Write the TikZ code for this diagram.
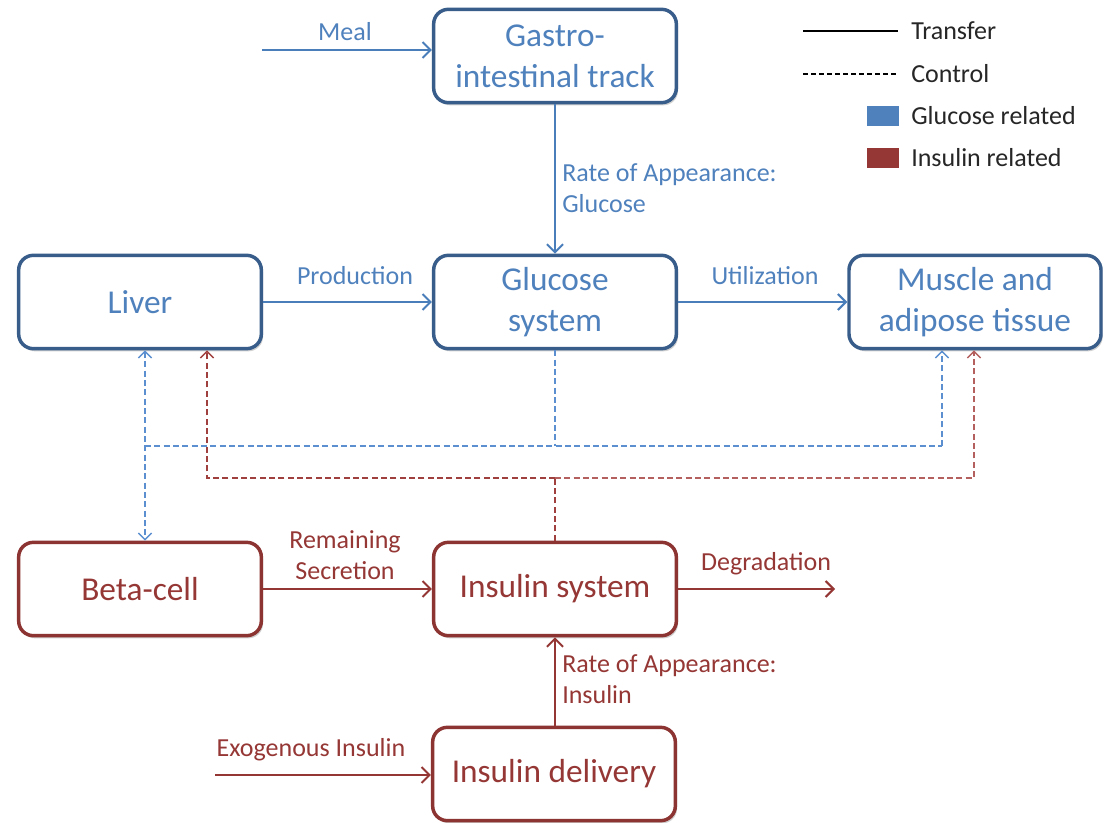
\documentclass[tikz,border=0pt]{standalone}
\usepackage{fontspec}
\setmainfont{Carlito}
\usetikzlibrary{arrows.meta,shadows,calc}
\definecolor{bborder}{RGB}{56,93,138}
\definecolor{gtext}{RGB}{79,129,189}
\definecolor{gline}{RGB}{74,126,187}
\definecolor{gdash}{RGB}{91,143,207}
\definecolor{rborder}{RGB}{140,52,50}
\definecolor{rtext}{RGB}{149,55,53}
\definecolor{rline}{RGB}{148,54,52}
\definecolor{rdash}{RGB}{160,64,62}
\definecolor{rdashl}{RGB}{180,96,94}
\definecolor{legtext}{RGB}{38,38,38}
\begin{document}
\begin{tikzpicture}[x=0.75pt,y=-0.75pt,
  box/.style={rounded corners=11pt, line width=2.6pt, fill=white,
    minimum width=182pt, minimum height=70pt, align=center, inner sep=2pt,
    font=\fontsize{25}{31}\selectfont,
    drop shadow={shadow xshift=1.3pt, shadow yshift=-2pt, opacity=0.3, fill=black!60}},
  gbox/.style={box, draw=bborder, text=gtext},
  rbox/.style={box, draw=rborder, text=rtext},
  lab/.style={font=\fontsize{19.5}{23.5}\selectfont, inner sep=0pt},
  glab/.style={lab, text=gtext},
  rlab/.style={lab, text=rtext},
  leg/.style={lab, text=legtext, anchor=west},
  ttip/.tip={Straight Barb[length=6pt,width=12pt,line width=1.5pt]},
  ctip/.tip={Straight Barb[length=5pt,width=10pt,line width=1pt]},
  gtr/.style={line width=1.8pt, draw=gline, -ttip},
  rtr/.style={line width=1.8pt, draw=rline, -ttip},
  ctl/.style={line width=1.1pt, dash pattern=on 4.5pt off 2.5pt},
]
\useasboundingbox (0,0) rectangle (1106,823);

% boxes
\node[gbox] (gas) at (555,56) {Gastro-\\intestinal track};
\node[gbox] (liver) at (140,302) {Liver};
\node[gbox] (glu) at (555,302) {Glucose\\system};
\node[gbox, minimum width=189pt] (mus) at (975,302) {Muscle and\\adipose tissue};
\node[rbox] (beta) at (140,589) {Beta-cell};
\node[rbox] (ins) at (555,589) {Insulin system};
\node[rbox] (del) at (554,774) {Insulin delivery};

% free ends
\coordinate (mealstart) at (262,50);
\coordinate (degend) at (835,589);
\coordinate (exostart) at (215,775);

% transfer connectors
\draw[gtr] (mealstart) -- (mealstart -| gas.west);
\node[glab] (meal) at (345,32) {Meal};
\draw[gtr] (gas.south) -- (glu.north);
\node[glab, anchor=west, align=left] (rag) at (562,188) {Rate of Appearance:\\Glucose};
\draw[gtr] (liver.east) -- (glu.west);
\node[glab] (prod) at (355,276) {Production};
\draw[gtr] (glu.east) -- (mus.west);
\node[glab] (util) at (765,276) {Utilization};
\draw[rtr] (beta.east) -- (ins.west);
\node[rlab, align=center] (rem) at (345,555) {Remaining\\Secretion};
\draw[rtr] (ins.east) -- (degend);
\node[rlab] (deg) at (766,564) {Degradation};
\draw[rtr] (del.north -| ins.south) -- (ins.south);
\node[rlab, anchor=west, align=left] (rai) at (562,679) {Rate of Appearance:\\Insulin};
\draw[rtr] (exostart) -- (exostart -| del.west);
\node[rlab] (exo) at (311,750) {Exogenous Insulin};

% control connectors (glucose)
\coordinate (bj) at (555,446);
\coordinate (bl) at (145,446);
\coordinate (br) at (942,446);
\draw[ctl, draw=gdash] (glu.south) -- (bj);
\draw[ctl, draw=gdash] (bl) -- (br);
\draw[ctl, draw=gdash, ctip-ctip] (liver.south -| bl) -- (beta.north -| bl);
\draw[ctl, draw=gdash, -ctip] (br) -- (br |- mus.south);

% control connectors (insulin)
\coordinate (rj) at (555,478);
\coordinate (rl) at (207,478);
\coordinate (rr) at (974,478);
\draw[ctl, draw=rdash] (ins.north) -- (rj);
\draw[ctl, draw=rdash, -ctip] (rj) -- (rl) -- (rl |- liver.south);
\draw[ctl, draw=rdashl, -ctip] (rj) -- (rr) -- (rr |- mus.south);

% legend
\coordinate (l1a) at (803,31); \coordinate (l1b) at (898,31);
\draw[line width=1.4pt, draw=black] (l1a) -- (l1b);
\node[leg] (ltr) at (911,31) {Transfer};
\coordinate (l2a) at (803,74); \coordinate (l2b) at (898,74);
\draw[line width=0.9pt, dash pattern=on 3.5pt off 2.5pt, draw=black] (l2a) -- (l2b);
\node[leg] (lct) at (911,74) {Control};
\fill[gtext] (867,106) rectangle (899,126);
\node[leg] (lgl) at (911,116) {Glucose related};
\fill[rtext] (867,148) rectangle (899,168);
\node[leg] (lin) at (911,158) {Insulin related};
\end{tikzpicture}
\end{document}
